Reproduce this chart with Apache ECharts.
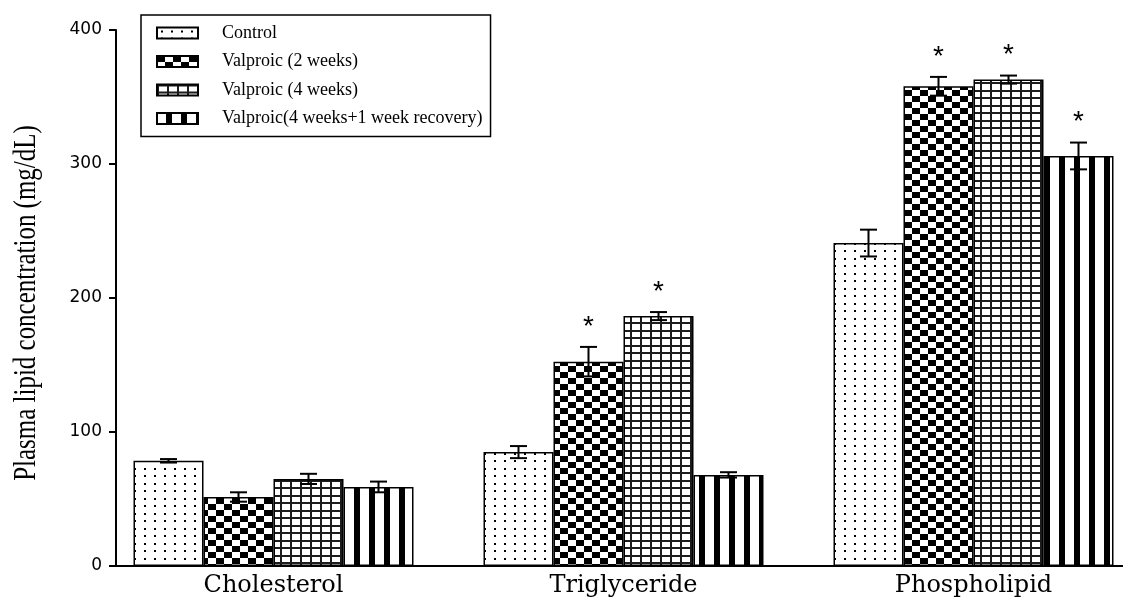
<!DOCTYPE html>
<html>
<head>
<meta charset="utf-8">
<title>Plasma lipid concentration</title>
<script src="https://cdn.jsdelivr.net/npm/echarts@6/dist/echarts.min.js"></script>
<style>
  html, body { margin: 0; padding: 0; background: #fff; }
  #chart { width: 1123px; height: 605px; }
</style>
</head>
<body>
<div id="chart"></div>
<script>
// ---- data ----
const categories = ['Cholesterol', 'Triglyceride', 'Phospholipid'];
const groupNames = ['Control', 'Valproic (2 weeks)', 'Valproic (4 weeks)', 'Valproic(4 weeks+1 week recovery)'];

const controlMean = [78.5, 85, 241];
const controlErr = [1.3, 4.5, 10];
const valproic2wMean = [51.5, 152.5, 358];
const valproic2wErr = [3.5, 11, 7];
const valproic4wMean = [65, 186.5, 363];
const valproic4wErr = [3.8, 3, 3];
const recoveryMean = [59, 68, 306];
const recoveryErr = [4, 2, 10];

// significant difference from control (drawn as *)
const controlSig = [false, false, false];
const valproic2wSig = [false, true, true];
const valproic4wSig = [false, true, true];
const recoverySig = [false, false, true];

const yTicks = [0, 100, 200, 300, 400];

// ---- layout constants ----
const BAR_W = 70;      // width of each bar
const SPACER_W = 35;   // empty slot after each group, pulls the group left of the band centre
const CAP = 8.5;       // half width of error-bar caps

// ---- fill patterns ----
function makePattern(w, h, draw) {
  const c = document.createElement('canvas');
  c.width = w; c.height = h;
  const ctx = c.getContext('2d');
  ctx.fillStyle = '#fff';
  ctx.fillRect(0, 0, w, h);
  ctx.fillStyle = '#000';
  draw(ctx);
  return { image: c, repeat: 'repeat' };
}
const dotsFill = makePattern(10, 15, ctx => {
  ctx.fillRect(4, 3, 2, 2);
  ctx.fillRect(4, 10, 2, 2);
});
const checkerFill = makePattern(16, 12, ctx => {
  ctx.fillRect(0, 0, 8, 6);
  ctx.fillRect(8, 6, 8, 6);
});
const gridFill = makePattern(10, 15, ctx => {
  ctx.fillStyle = '#1c1c1c';
  ctx.fillRect(0, 0, 10, 2);
  ctx.fillRect(0, 7, 10, 2);
  ctx.fillRect(0, 0, 2, 15);
});
const stripeFill = makePattern(15, 4, ctx => {
  ctx.fillRect(9, 0, 6, 4);
});

const groups = [
  { name: groupNames[0], mean: controlMean, err: controlErr, sig: controlSig, fill: dotsFill },
  { name: groupNames[1], mean: valproic2wMean, err: valproic2wErr, sig: valproic2wSig, fill: checkerFill },
  { name: groupNames[2], mean: valproic4wMean, err: valproic4wErr, sig: valproic4wSig, fill: gridFill },
  { name: groupNames[3], mean: recoveryMean, err: recoveryErr, sig: recoverySig, fill: stripeFill }
];

const barSeries = groups.map(g => ({
  type: 'bar',
  name: g.name,
  data: g.mean,
  barWidth: BAR_W,
  barGap: '0%',
  itemStyle: { color: g.fill, borderColor: '#000', borderWidth: 1.5 },
  emphasis: { disabled: true },
  z: 2
}));

const spacerSeries = {
  type: 'bar',
  name: 'spacer',
  data: categories.map(() => '-'),
  barWidth: SPACER_W,
  barGap: '0%',
  silent: true,
  itemStyle: { color: 'transparent' }
};

// error bars and significance marks: [category, group, mean, err, sig]
const errorData = [];
groups.forEach((g, gi) => {
  categories.forEach((c, ci) => {
    errorData.push([ci, gi, g.mean[ci], g.err[ci], g.sig[ci] ? 1 : 0]);
  });
});

const errorSeries = {
  type: 'custom',
  name: 'error',
  data: errorData,
  encode: { x: 0, y: 2 },
  silent: true,
  z: 5,
  renderItem(params, api) {
    const cat = api.value(0), grp = api.value(1);
    const mean = api.value(2), err = api.value(3), sig = api.value(4);
    const centre = api.coord([cat, mean]);
    const groupLeft = centre[0] - (4 * BAR_W + SPACER_W) / 2;
    const x = groupLeft + BAR_W * (grp + 0.5);
    const yTop = api.coord([cat, mean + err])[1];
    const yBot = api.coord([cat, mean - err])[1];
    const style = { stroke: '#000', lineWidth: 2, fill: null };
    const children = [
      { type: 'line', shape: { x1: x, y1: yTop, x2: x, y2: yBot }, style },
      { type: 'line', shape: { x1: x - CAP, y1: yTop, x2: x + CAP, y2: yTop }, style },
      { type: 'line', shape: { x1: x - CAP, y1: yBot, x2: x + CAP, y2: yBot }, style }
    ];
    if (sig) {
      children.push({
        type: 'text',
        x: x,
        y: yTop - 20,
        style: {
          text: '*',
          fill: '#000',
          fontFamily: 'Liberation Sans',
          fontSize: 28,
          align: 'center',
          verticalAlign: 'middle'
        }
      });
    }
    return { type: 'group', children };
  }
};

const chart = echarts.init(document.getElementById('chart'), null, { renderer: 'canvas' });
chart.setOption({
  backgroundColor: '#fff',
  animation: false,
  grid: {
    left: 116, top: 30, width: 1050, height: 536,
    containLabel: false,
    outerBoundsMode: 'none'
  },
  legend: {
    data: groupNames,
    orient: 'vertical',
    left: 141,
    top: 15,
    padding: [9, 8, 9, 15],
    itemWidth: 41,
    itemHeight: 11,
    itemGap: 10.5,
    icon: 'rect',
    borderColor: '#000',
    borderWidth: 1.5,
    borderRadius: 0,
    selectedMode: false,
    textStyle: {
      fontFamily: 'Liberation Serif',
      fontSize: 18,
      color: '#000',
      padding: [0, 0, 0, 19]
    }
  },
  xAxis: {
    type: 'category',
    data: categories,
    axisLine: { show: true, lineStyle: { color: '#000', width: 2 } },
    axisTick: { show: false },
    axisLabel: {
      color: '#000',
      fontFamily: 'DejaVu Serif',
      fontSize: 24,
      margin: 8,
      padding: [0, SPACER_W, 0, 0]
    },
    splitLine: { show: false }
  },
  yAxis: {
    type: 'value',
    min: yTicks[0],
    max: yTicks[yTicks.length - 1],
    interval: yTicks[1] - yTicks[0],
    axisLine: { show: true, lineStyle: { color: '#000', width: 2 } },
    axisTick: { show: true, inside: false, length: 7, lineStyle: { color: '#000', width: 2 } },
    axisLabel: { color: '#000', fontFamily: 'DejaVu Sans', fontSize: 17, margin: 14 },
    splitLine: { show: false }
  },
  graphic: [{
    type: 'text',
    x: 27,
    y: 303,
    rotation: Math.PI / 2,
    scaleX: 0.78,
    silent: true,
    style: {
      text: 'Plasma lipid concentration (mg/dL)',
      fill: '#000',
      fontFamily: 'Liberation Serif',
      fontSize: 32,
      align: 'center',
      verticalAlign: 'middle'
    }
  }],
  series: [...barSeries, spacerSeries, errorSeries]
});
</script>
</body>
</html>
